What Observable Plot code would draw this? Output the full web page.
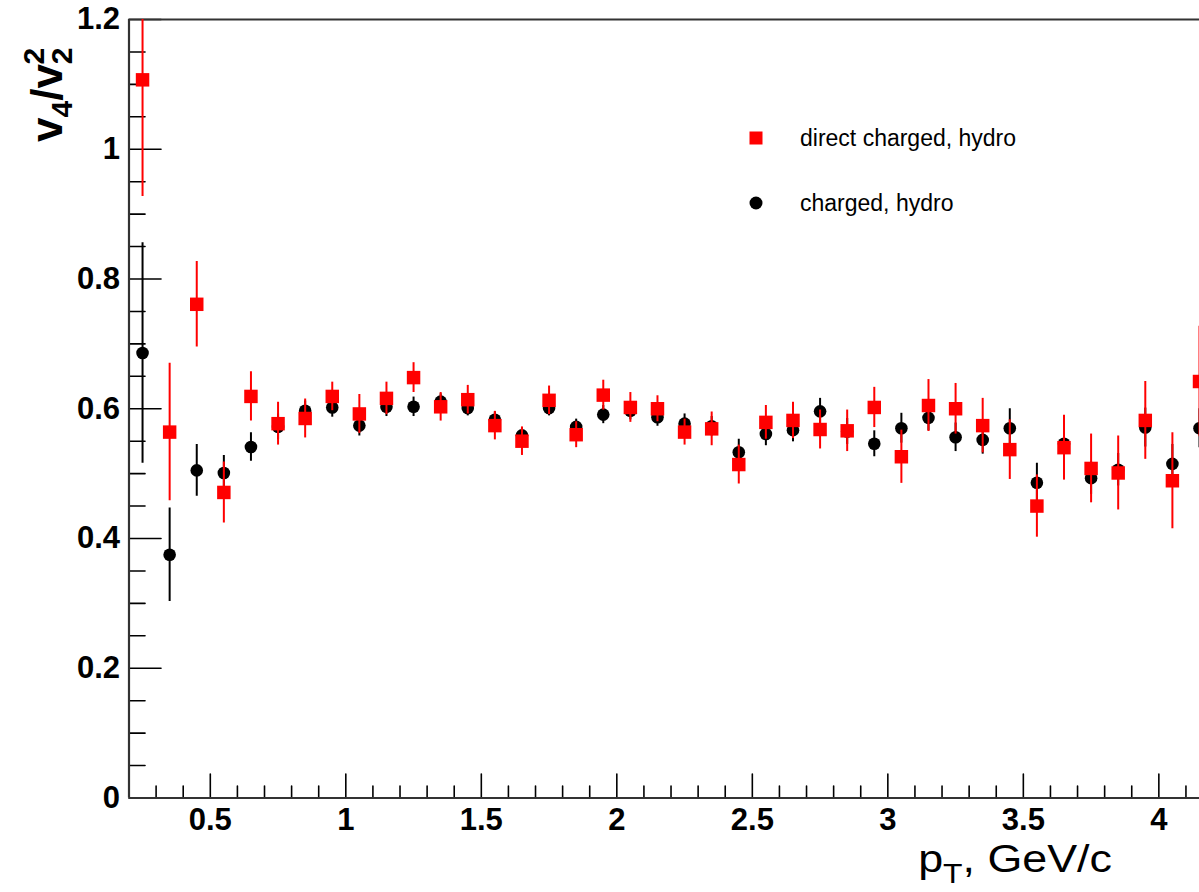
<!DOCTYPE html>
<html><head><meta charset="utf-8">
<script src="https://cdn.jsdelivr.net/npm/d3@7"></script>
<script src="https://cdn.jsdelivr.net/npm/@observablehq/plot@0.6"></script>
<style>
html,body{margin:0;padding:0;background:#fff;overflow:hidden}
#wrap{position:relative;width:1199px;height:892px;font-family:"Liberation Sans",Arial,sans-serif}
.leg{position:absolute;left:0;top:0;width:1199px;height:892px;pointer-events:none}
.row{position:absolute;display:flex;align-items:center;font-size:23px;color:#000}
</style></head><body><div id="wrap"></div>
<script>
// pT bin centres (GeV/c)
const pt = [0.25,0.35,0.45,0.55,0.65,0.75,0.85,0.95,1.05,1.15,1.25,1.35,1.45,1.55,1.65,1.75,1.85,1.95,2.05,2.15,2.25,2.35,2.45,2.55,2.65,2.75,2.85,2.95,3.05,3.15,3.25,3.35,3.45,3.55,3.65,3.75,3.85,3.95,4.05,4.15];
// direct charged, hydro
const directV   = [1.107,0.564,0.761,0.471,0.619,0.577,0.585,0.619,0.592,0.616,0.648,0.603,0.614,0.574,0.550,0.613,0.560,0.621,0.602,0.600,0.564,0.569,0.514,0.579,0.582,0.568,0.566,0.602,0.526,0.605,0.600,0.574,0.537,0.450,0.540,0.508,0.501,0.582,0.489,0.642];
const directErr = [0.180,0.106,0.066,0.047,0.038,0.033,0.030,0.022,0.030,0.025,0.023,0.022,0.022,0.022,0.022,0.022,0.020,0.023,0.023,0.020,0.020,0.026,0.030,0.026,0.028,0.030,0.032,0.031,0.041,0.040,0.039,0.042,0.046,0.048,0.050,0.053,0.057,0.060,0.074,0.085];
// charged, hydro
const chargedV   = [0.686,0.375,0.505,0.501,0.541,0.572,0.597,0.602,0.574,0.603,0.603,0.611,0.601,0.583,0.559,0.601,0.572,0.591,0.597,0.587,0.577,0.573,0.533,0.561,0.567,0.596,0.565,0.546,0.570,0.586,0.556,0.552,0.570,0.486,0.546,0.493,0.506,0.571,0.515,0.570];
const chargedErr = [0.170,0.072,0.040,0.027,0.022,0.020,0.015,0.015,0.016,0.015,0.015,0.012,0.012,0.012,0.012,0.012,0.012,0.014,0.014,0.014,0.015,0.015,0.020,0.018,0.018,0.020,0.020,0.020,0.023,0.020,0.022,0.022,0.030,0.030,0.025,0.025,0.025,0.030,0.030,0.030];
const seriesNames = ["direct charged, hydro", "charged, hydro"];
const seriesColors = ["#ff0000", "#000000"];
// axes
const xMajorTicks = [0.5,1,1.5,2,2.5,3,3.5,4];
const xMinorTicks = [0.3,0.4,0.6,0.7,0.8,0.9,1.1,1.2,1.3,1.4,1.6,1.7,1.8,1.9,2.1,2.2,2.3,2.4,2.6,2.7,2.8,2.9,3.1,3.2,3.3,3.4,3.6,3.7,3.8,3.9,4.1];
const yMajorTicks = [0,0.2,0.4,0.6,0.8,1,1.2];
const yMinorTicks = [0.05,0.1,0.15,0.25,0.3,0.35,0.45,0.5,0.55,0.65,0.7,0.75,0.85,0.9,0.95,1.05,1.1,1.15];
const xDomain = [0.2, 4.15];
const yDomain = [0, 1.2];

const direct = pt.map((x,i)=>({x, v: directV[i], lo: directV[i]-directErr[i], hi: directV[i]+directErr[i]}));
const charged = pt.map((x,i)=>({x, v: chargedV[i], lo: chargedV[i]-chargedErr[i], hi: chargedV[i]+chargedErr[i]}));

const tickShape = {draw(ctx, l){ ctx.moveTo(0,0); ctx.lineTo(0,-l); }};
const axisColor = "#333";

const chart = Plot.plot({
  width: 1199, height: 892,
  marginLeft: 128.5, marginRight: 0, marginTop: 19, marginBottom: 94.5,
  style: {fontFamily: '"Liberation Sans", Arial, sans-serif', background: "#fff", color: "#000"},
  x: {domain: xDomain},
  y: {domain: yDomain},
  marks: [
    // ticks (inward)
    Plot.vector(xMajorTicks, {x: d=>d, y: yDomain[0], length: 24, anchor: "start", shape: tickShape, stroke: "#000", strokeWidth: 1.6}),
    Plot.vector(xMinorTicks, {x: d=>d, y: yDomain[0], length: 12, anchor: "start", shape: tickShape, stroke: "#000", strokeWidth: 1.6}),
    Plot.vector(yMajorTicks, {x: xDomain[0], y: d=>d, length: 32, rotate: 90, anchor: "start", shape: tickShape, stroke: "#000", strokeWidth: 1.6}),
    Plot.vector(yMinorTicks, {x: xDomain[0], y: d=>d, length: 16, rotate: 90, anchor: "start", shape: tickShape, stroke: "#000", strokeWidth: 1.6}),
    // frame lines
    Plot.ruleY([yDomain[0], yDomain[1]], {stroke: axisColor, strokeWidth: 2.2}),
    Plot.ruleX([xDomain[0]], {stroke: axisColor, strokeWidth: 2.2}),
    // tick labels
    Plot.axisX(xMajorTicks, {tickSize: 0, tickPadding: 10, tickFormat: d=>String(d), fontSize: 31, fontWeight: "bold", label: null}),
    Plot.axisY(yMajorTicks, {tickSize: 0, tickPadding: 9, tickFormat: d=>String(d), fontSize: 31, fontWeight: "bold", label: null}),
    // charged, hydro
    Plot.ruleX(charged, {x: "x", y1: "lo", y2: "hi", stroke: seriesColors[1], strokeWidth: 2, clip: true}),
    Plot.dot(charged, {x: "x", y: "v", r: 6.3, symbol: "circle", fill: seriesColors[1], stroke: null}),
    // direct charged, hydro
    Plot.ruleX(direct, {x: "x", y1: "lo", y2: "hi", stroke: seriesColors[0], strokeWidth: 2, clip: true}),
    Plot.dot(direct, {x: "x", y: "v", r: 7.6, symbol: "square", fill: seriesColors[0], stroke: null})
  ]
});

const svg = d3.select(chart);
// y-axis title v4/v2^2 (rotated, reading upward)
const yt = svg.append("text")
  .attr("transform", "translate(62,142) rotate(-90)")
  .attr("text-anchor", "start")
  .attr("font-family", '"Liberation Sans", Arial, sans-serif')
  .attr("font-weight", "bold").attr("font-size", 44).attr("fill", "#000");
yt.append("tspan").text("v");
yt.append("tspan").attr("font-size", 30).attr("dy", 10).text("4");
yt.append("tspan").attr("dy", -10).text("/v");
yt.append("tspan").attr("font-size", 30).attr("dy", 10).text("2");
yt.append("tspan").attr("font-size", 30).attr("dx", -17).attr("dy", -28).text("2");
// x-axis title p_T, GeV/c
const xt = svg.append("text")
  .attr("transform", "translate(1112,872) scale(1.18,1)")
  .attr("text-anchor", "end")
  .attr("font-family", '"Liberation Sans", Arial, sans-serif')
  .attr("font-size", 38).attr("fill", "#000");
xt.append("tspan").text("p");
xt.append("tspan").attr("font-size", 27).attr("dy", 11).text("T");
xt.append("tspan").attr("dy", -11).text(", GeV/c");

const wrap = document.getElementById("wrap");
wrap.appendChild(chart);

// legend
const leg = document.createElement("div");
leg.className = "leg";
const legRows = [
  {name: seriesNames[0], color: seriesColors[0], shape: "square", top: 124},
  {name: seriesNames[1], color: seriesColors[1], shape: "circle", top: 189}
];
legRows.forEach(r => {
  const row = document.createElement("div");
  row.className = "row";
  row.style.left = "749px"; row.style.top = r.top + "px"; row.style.height = "28px";
  const sw = r.shape === "square"
    ? `<svg width="14" height="14"><rect x="0.5" y="0.5" width="13" height="13" fill="${r.color}"/></svg>`
    : `<svg width="14" height="14"><circle cx="7" cy="7" r="6.5" fill="${r.color}"/></svg>`;
  row.innerHTML = sw + `<span style="margin-left:37px">${r.name}</span>`;
  leg.appendChild(row);
});
wrap.appendChild(leg);
</script>
</body></html>
